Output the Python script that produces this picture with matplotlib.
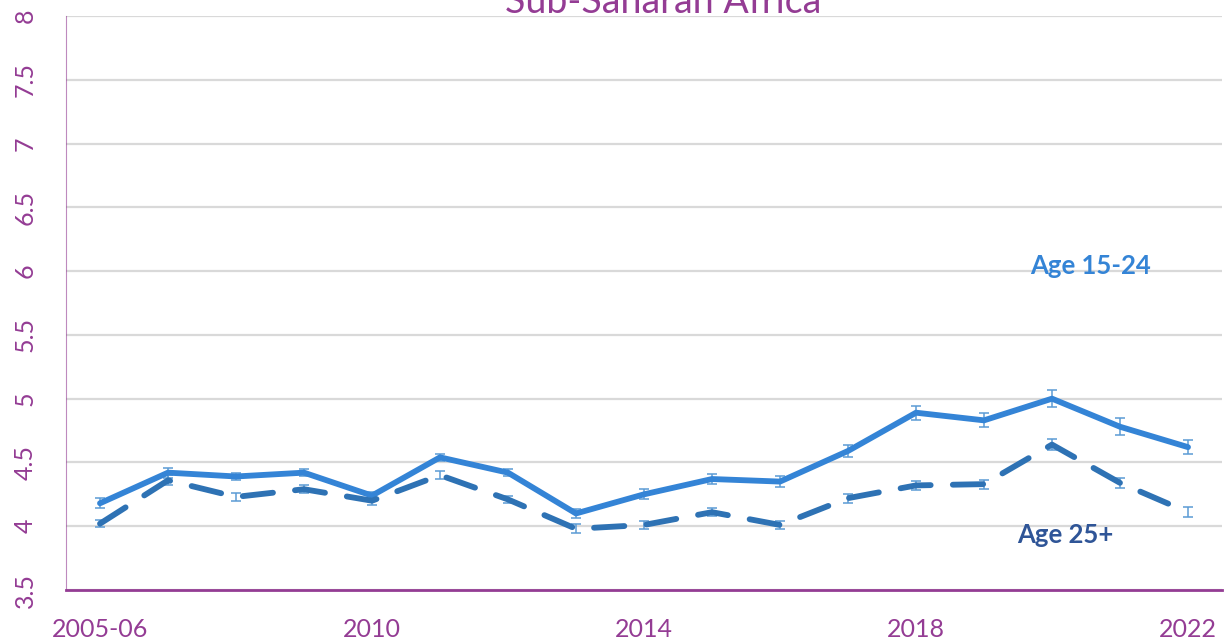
import matplotlib
matplotlib.use("Agg")
import matplotlib.pyplot as plt
import numpy as np

# ── Data ──────────────────────────────────────────────────────────────────────
years = ["2005-06", "2007", "2008", "2009", "2010", "2011", "2012", "2013", "2014",
         "2015", "2016", "2017", "2018", "2019", "2020", "2021", "2022"]
young = [4.18, 4.42, 4.39, 4.42, 4.24, 4.54, 4.42, 4.10, 4.25,
         4.37, 4.35, 4.59, 4.89, 4.83, 5.00, 4.78, 4.62]
young_err = [0.04, 0.04, 0.03, 0.03, 0.03, 0.03, 0.03, 0.035, 0.04,
             0.04, 0.04, 0.045, 0.055, 0.055, 0.065, 0.065, 0.055]
older = [4.02, 4.36, 4.23, 4.29, 4.20, 4.40, 4.21, 3.98, 4.01,
         4.11, 4.01, 4.22, 4.32, 4.33, 4.64, 4.34, 4.11]
older_err = [0.03, 0.04, 0.03, 0.03, 0.03, 0.03, 0.03, 0.035, 0.03,
             0.03, 0.03, 0.035, 0.035, 0.035, 0.045, 0.04, 0.04]
shown_ticks = ["2005-06", "2010", "2014", "2018", "2022"]

# ── Style ─────────────────────────────────────────────────────────────────────
PURPLE = "#943C94"
LIGHT  = "#3484D6"
DARK   = "#2E72B4"
ERR    = "#5B9BD5"
LABEL2 = "#2F5597"
FONT   = ["Lato", "DejaVu Sans"]

plt.rcParams["font.family"] = FONT

fig = plt.figure(figsize=(12.25, 6.42), dpi=100)
ax = fig.add_axes([66 / 1225, 1 - 590 / 642, (1222 - 66) / 1225, (590 - 16) / 642])

x = np.arange(len(years))

ax.errorbar(x, young, yerr=young_err, fmt="none", ecolor=ERR, elinewidth=1.1,
            capsize=3.5, capthick=1.1, zorder=2)
ax.errorbar(x, older, yerr=older_err, fmt="none", ecolor=ERR, elinewidth=1.1,
            capsize=3.5, capthick=1.1, zorder=2)
ax.plot(x, young, color=LIGHT, lw=4.2, solid_capstyle="round",
        solid_joinstyle="round", zorder=3)
ax.plot(x, older, color=DARK, lw=4.2, dashes=(5.2, 3.8), dash_capstyle="round",
        zorder=3)

ax.set_xlim(-0.5, len(years) - 0.5)
ax.set_ylim(3.5, 8)
ax.set_yticks(np.arange(3.5, 8.01, 0.5))
ax.set_yticklabels([f"{v:g}" for v in np.arange(3.5, 8.01, 0.5)], rotation=90,
                   va="center", fontsize=18, color=PURPLE)
tick_pos = [years.index(t) for t in shown_ticks]
ax.set_xticks(tick_pos)
ax.set_xticklabels(shown_ticks, fontsize=18, color=PURPLE)
ax.tick_params(axis="x", length=0, pad=20)
ax.tick_params(axis="y", length=0, pad=21)

ax.grid(True, axis="y", color="#D9D9D9", lw=1.6)
ax.set_axisbelow(True)
for s in ["top", "right"]:
    ax.spines[s].set_visible(False)
ax.spines["left"].set_color(PURPLE)
ax.spines["left"].set_linewidth(0.8)
ax.spines["left"].set_alpha(0.6)
ax.spines["bottom"].set_color(PURPLE)
ax.spines["bottom"].set_linewidth(2)

ax.text(14.56, 6.04, "Age 15-24", color=LIGHT, fontsize=18.5, fontweight="bold",
        ha="center", va="center")
ax.text(14.19, 3.93, "Age 25+", color=LABEL2, fontsize=18.5, fontweight="bold",
        ha="center", va="center")

fig.text(0.541, 1 - 13 / 642, "Sub-Saharan Africa", color=PURPLE, fontsize=27,
         ha="center", va="baseline")

fig.savefig("out.png", dpi=100)
